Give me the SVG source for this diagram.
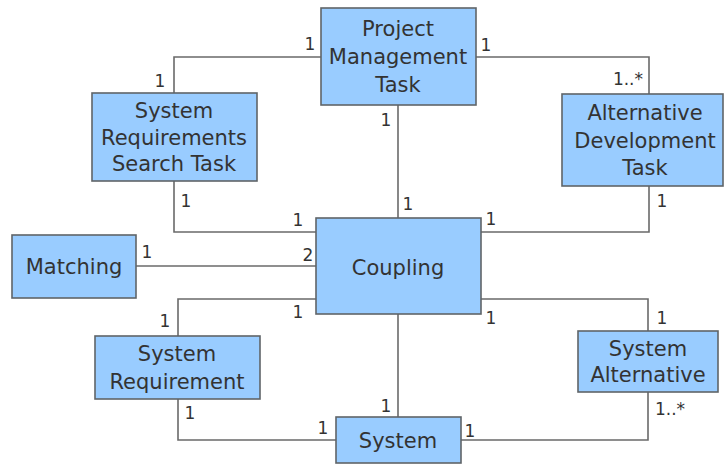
<svg xmlns="http://www.w3.org/2000/svg" width="728" height="464" viewBox="0 0 728 464">
<style>
.box{fill:#99ccff;stroke:#5f6468;stroke-width:1.6}
.t{font-family:"DejaVu Sans",sans-serif;font-size:21px;fill:#333;text-anchor:middle}
.m{font-family:"DejaVu Sans",sans-serif;font-size:17px;fill:#333}
.c{fill:none;stroke:#6a6a6a;stroke-width:1.6}
</style>
<rect width="728" height="464" fill="#ffffff"/>
<g id="connectors">
<polyline class="c" points="321,57 174,57 174,93"/>
<polyline class="c" points="476,57 649,57 649,94"/>
<line class="c" x1="398" y1="105" x2="398" y2="218"/>
<polyline class="c" points="174,181 174,232 316,232"/>
<line class="c" x1="136" y1="266" x2="316" y2="266"/>
<polyline class="c" points="316,299 178,299 178,336"/>
<polyline class="c" points="481,232 649,232 649,186"/>
<polyline class="c" points="481,299 648,299 648,331"/>
<line class="c" x1="398" y1="314" x2="398" y2="417"/>
<polyline class="c" points="178,399 178,440 336,440"/>
<polyline class="c" points="461,440 648,440 648,392"/>
<text class="m" x="310" y="50" text-anchor="middle">1</text>
<text class="m" x="160" y="87" text-anchor="middle">1</text>
<text class="m" x="486" y="51" text-anchor="middle">1</text>
<text class="m" x="643" y="85" text-anchor="end">1..*</text>
<text class="m" x="386" y="126" text-anchor="middle">1</text>
<text class="m" x="408" y="210" text-anchor="middle">1</text>
<text class="m" x="186" y="207" text-anchor="middle">1</text>
<text class="m" x="298" y="226" text-anchor="middle">1</text>
<text class="m" x="491" y="225" text-anchor="middle">1</text>
<text class="m" x="662" y="207" text-anchor="middle">1</text>
<text class="m" x="147" y="258" text-anchor="middle">1</text>
<text class="m" x="308" y="261" text-anchor="middle">2</text>
<text class="m" x="298" y="318" text-anchor="middle">1</text>
<text class="m" x="165" y="327" text-anchor="middle">1</text>
<text class="m" x="491" y="324" text-anchor="middle">1</text>
<text class="m" x="662" y="324" text-anchor="middle">1</text>
<text class="m" x="190" y="419" text-anchor="middle">1</text>
<text class="m" x="386" y="412" text-anchor="middle">1</text>
<text class="m" x="323" y="434" text-anchor="middle">1</text>
<text class="m" x="470" y="437" text-anchor="middle">1</text>
<text class="m" x="655" y="415" text-anchor="start">1..*</text>
</g>
<g id="project-management-task">
<rect class="box" x="321" y="8" width="155" height="97"/>
<text class="t" x="398" y="36">Project</text>
<text class="t" x="398" y="64">Management</text>
<text class="t" x="398" y="92">Task</text>
</g>
<g id="system-requirements-search-task">
<rect class="box" x="92" y="93" width="165" height="88"/>
<text class="t" x="174" y="118">System</text>
<text class="t" x="174" y="145">Requirements</text>
<text class="t" x="174" y="171">Search Task</text>
</g>
<g id="alternative-development-task">
<rect class="box" x="562" y="94" width="161" height="92"/>
<text class="t" x="645" y="120">Alternative</text>
<text class="t" x="645" y="148">Development</text>
<text class="t" x="645" y="175">Task</text>
</g>
<g id="matching">
<rect class="box" x="12" y="235" width="124" height="63"/>
<text class="t" x="74" y="274">Matching</text>
</g>
<g id="coupling">
<rect class="box" x="316" y="218" width="165" height="96"/>
<text class="t" x="398" y="275">Coupling</text>
</g>
<g id="system-requirement">
<rect class="box" x="95" y="336" width="165" height="63"/>
<text class="t" x="177" y="361">System</text>
<text class="t" x="177" y="389">Requirement</text>
</g>
<g id="system-alternative">
<rect class="box" x="578" y="331" width="140" height="61"/>
<text class="t" x="648" y="356">System</text>
<text class="t" x="648" y="382">Alternative</text>
</g>
<g id="system">
<rect class="box" x="336" y="417" width="125" height="46"/>
<text class="t" x="398" y="448">System</text>
</g>
</svg>
